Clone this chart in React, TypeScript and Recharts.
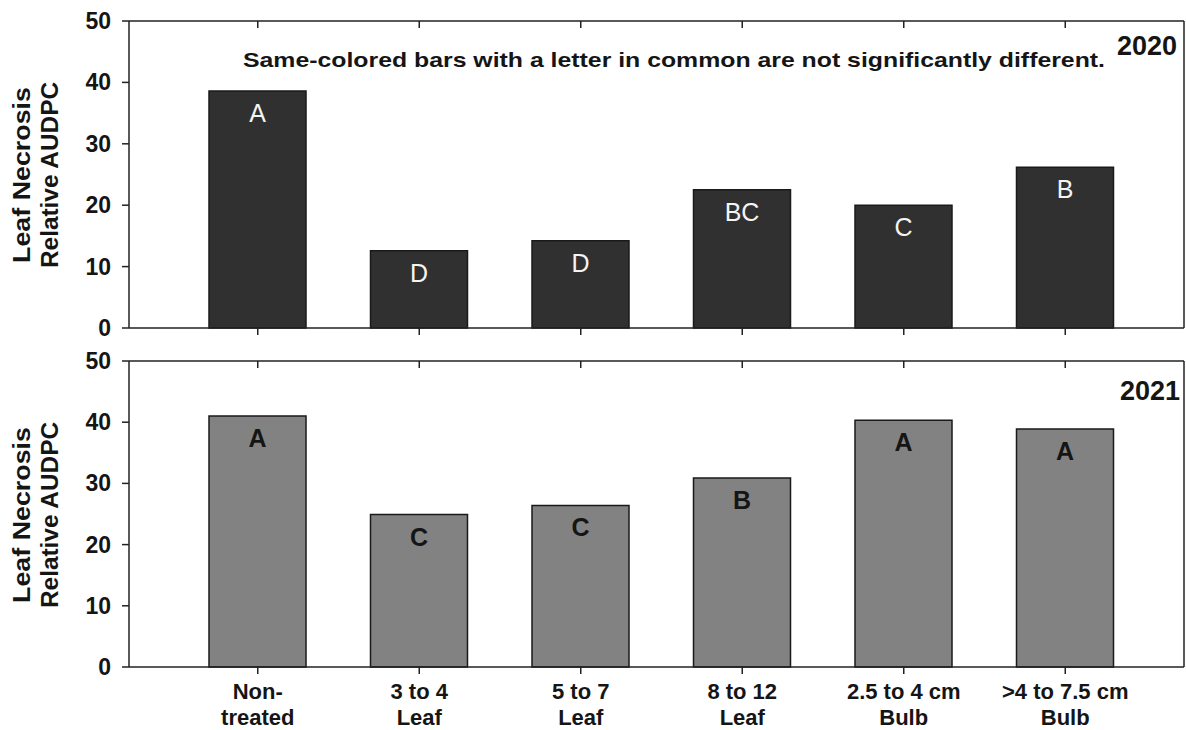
import React from "react";
import {Bar, BarChart, LabelList, XAxis, YAxis} from "recharts";

// categories (two-line tick labels split on \n)
const categories = ["Non-\ntreated", "3 to 4\nLeaf", "5 to 7\nLeaf", "8 to 12\nLeaf", "2.5 to 4 cm\nBulb", ">4 to 7.5 cm\nBulb"];

// 2020 season
const values2020 = [38.6, 12.6, 14.2, 22.5, 20.0, 26.2];
const letters2020 = ["A", "D", "D", "BC", "C", "B"];

// 2021 season
const values2021 = [41.0, 24.9, 26.4, 30.9, 40.3, 38.9];
const letters2021 = ["A", "C", "C", "B", "A", "A"];

const yTicks = [0, 10, 20, 30, 40, 50];

const FONT = "'Liberation Sans', Arial, Helvetica, sans-serif";
const INK = "#151515";
const PAD = {left: 48, right: 38};

const data2020 = categories.map((name, i) => ({name, value: values2020[i], letter: letters2020[i]}));
const data2021 = categories.map((name, i) => ({name, value: values2021[i], letter: letters2021[i]}));

const NoTick = () => <g/>;

const CategoryTick = (props: any) => {
	const {x, y, payload} = props;
	const lines = String(payload.value).split("\n");
	return (
		<text x={x} y={y} textAnchor="middle" fontFamily={FONT} fontWeight="bold" fontSize={22} fill={INK}>
			{lines.map((line, i) => (
				<tspan key={i} x={x} dy={i === 0 ? 23 : 26}>{line}</tspan>
			))}
		</text>
	);
};

const ValueTick = (props: any) => {
	const {y, payload} = props;
	return (
		<text x={111} y={Number(y) + 8} textAnchor="end" fontFamily={FONT} fontWeight="bold" fontSize={23} fill={INK}>
			{payload.value}
		</text>
	);
};

const whiteLetter = (props: any) => {
	const {x, y, width, value} = props;
	return (
		<text x={Number(x) + Number(width) / 2} y={Number(y) + 31} textAnchor="middle"
			  fontFamily={FONT} fontSize={25} fill="#f4f4f4">{value}</text>
	);
};

const blackLetter = (props: any) => {
	const {x, y, width, value} = props;
	return (
		<text x={Number(x) + Number(width) / 2} y={Number(y) + 31} textAnchor="middle"
			  fontFamily={FONT} fontWeight="bold" fontSize={25} fill={INK}>{value}</text>
	);
};

const axisStroke = {stroke: "#222", strokeWidth: 1.5};

const Panel = ({data, fill, letter, showCategories, height, bottom, xHeight}: any) => (
	<BarChart width={1186} height={height} data={data}
			  margin={{top: 21, right: 2, bottom, left: 0}}>
		<XAxis xAxisId="top" dataKey="name" orientation="top" mirror height={1} tick={NoTick}
			   tickSize={7} axisLine={axisStroke} tickLine={axisStroke} padding={PAD}/>
		<XAxis xAxisId="bottom" dataKey="name" height={xHeight} tickSize={7}
			   tick={showCategories ? CategoryTick : NoTick} interval={0}
			   axisLine={axisStroke} tickLine={axisStroke} padding={PAD}/>
		<YAxis yAxisId="left" width={129} domain={[0, 50]} ticks={yTicks} tickSize={7}
			   tick={ValueTick} axisLine={axisStroke} tickLine={axisStroke}/>
		<YAxis yAxisId="right" orientation="right" mirror width={1} domain={[0, 50]} ticks={yTicks}
			   tickSize={7} tick={NoTick} axisLine={axisStroke} tickLine={axisStroke}/>
		<Bar dataKey="value" xAxisId="bottom" yAxisId="left" fill={fill} stroke="#1a1a1a" strokeWidth={1.5}
			 barSize={97} isAnimationActive={false}>
			<LabelList dataKey="letter" content={letter}/>
		</Bar>
	</BarChart>
);

const YTitle = ({cy}: { cy: number }) => (
	<g fontFamily={FONT} fontWeight="bold" fontSize={24} fill={INK} textAnchor="middle">
		<text transform={`translate(30,${cy}) rotate(-90)`} textLength={176} lengthAdjust="spacingAndGlyphs">Leaf Necrosis</text>
		<text transform={`translate(58,${cy}) rotate(-90)`} textLength={186} lengthAdjust="spacingAndGlyphs">Relative AUDPC</text>
	</g>
);

const App = () => (
	<div style={{position: "absolute", left: 0, top: 0, width: 1186, height: 730, background: "#fff"}}>
		<div style={{position: "absolute", left: 0, top: 0}}>
			<Panel data={data2020} fill="#303030" letter={whiteLetter} showCategories={false}
				   height={345} bottom={9} xHeight={8}/>
		</div>
		<div style={{position: "absolute", left: 0, top: 340}}>
			<Panel data={data2021} fill="#828282" letter={blackLetter} showCategories
				   height={390} bottom={8} xHeight={55}/>
		</div>
		<svg width={1186} height={730} style={{position: "absolute", left: 0, top: 0, pointerEvents: "none"}}>
			<text x={674} y={67} textAnchor="middle" fontFamily={FONT} fontWeight="bold" fontSize={21} fill={INK}
				  textLength={862} lengthAdjust="spacingAndGlyphs">
				Same-colored bars with a letter in common are not significantly different.
			</text>
			<text x={1147} y={55} textAnchor="middle" fontFamily={FONT} fontWeight="bold" fontSize={27} fill={INK}>2020</text>
			<text x={1150} y={400} textAnchor="middle" fontFamily={FONT} fontWeight="bold" fontSize={27} fill={INK}>2021</text>
			<YTitle cy={175}/>
			<YTitle cy={515}/>
		</svg>
	</div>
);

export default App;
